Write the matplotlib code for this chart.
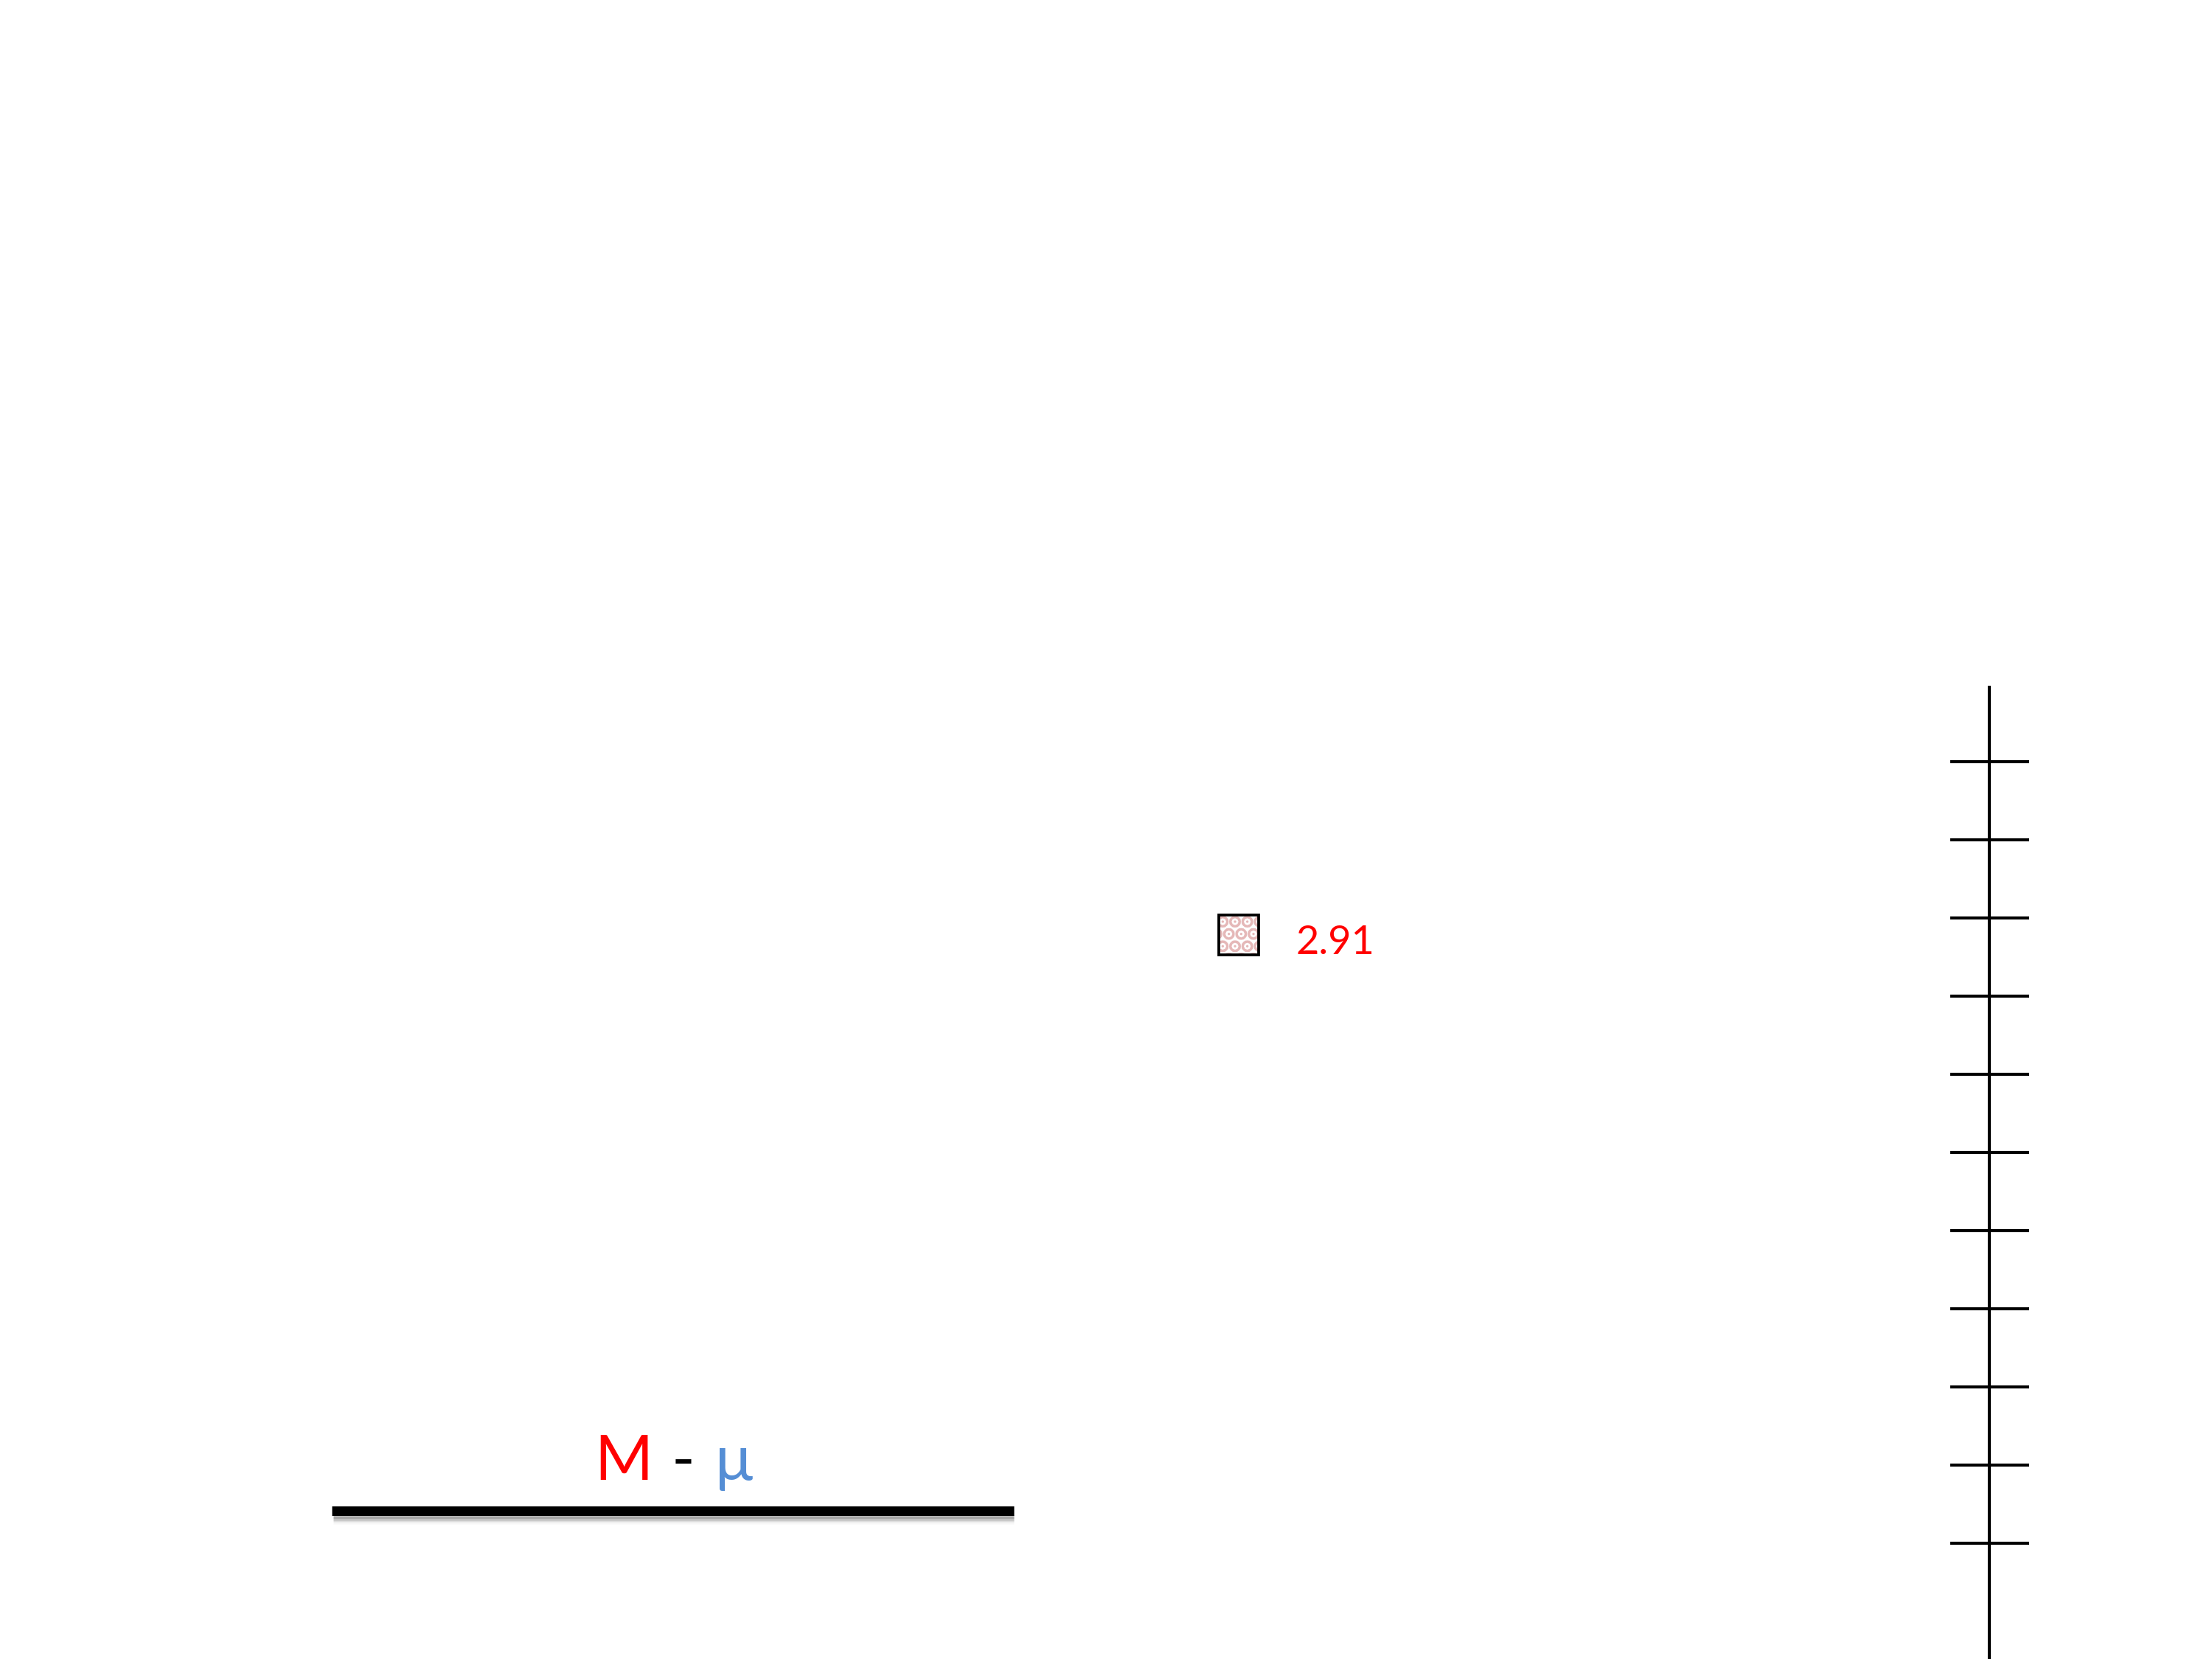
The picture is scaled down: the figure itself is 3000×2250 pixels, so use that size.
import matplotlib
matplotlib.use("Agg")
import matplotlib.pyplot as plt
from matplotlib.patches import Rectangle
import numpy as np

# data
tick_values = list(range(11))          # 11 tick marks along the vertical scale
point_label = "2.91"
title_parts = ["M", "-", "μ"]
title_colors = ["#FF0000", "#000000", "#558ED5"]

plt.rcParams['font.family'] = ['Lato', 'DejaVu Sans']
plt.rcParams['hatch.linewidth'] = 3.0

fig = plt.figure(figsize=(10, 7.5), dpi=300)
ax = fig.add_axes([0, 0, 1, 1])
ax.set_xlim(0, 3000)
ax.set_ylim(2250, 0)
ax.axis('off')

# vertical scale
scale_x = 2698
tick_top, tick_step = 1033, 106
ax.plot([scale_x, scale_x], [930, 2250], color='black', lw=1.0, solid_capstyle='butt')
tick_y = [tick_top + tick_step * v for v in tick_values]
ax.hlines(tick_y, 2645, 2752, color='black', lw=1.0)

# marker with speckled fill
cx, cy, s = 1680, 1268, 54
ax.add_patch(Rectangle((cx - s/2, cy - s/2), s, s, facecolor='white',
                       edgecolor='#E5B8B8', hatch='...', lw=0))
ax.add_patch(Rectangle((cx - s/2, cy - s/2), s, s, facecolor='none',
                       edgecolor='black', lw=0.9))
ax.text(1757, 1294, point_label, color='#FF0000', fontsize=13,
        ha='left', va='baseline')

# thick underline with soft shadow
for i, a in enumerate(np.linspace(0.28, 0.02, 7)):
    ax.plot([452, 1375], [2055 + 1.6 * i + 1, 2055 + 1.6 * i + 1],
            color='black', alpha=a, lw=0.6, solid_capstyle='butt')
ax.plot([450, 1375], [2048.5, 2048.5], color='black', lw=3.1, solid_capstyle='butt')

# title "M - μ"
xs = [846, 926, 995]
for t, c, x in zip(title_parts, title_colors, xs):
    ax.text(x, 2007, t, color=c, fontsize=20.5, ha='center', va='baseline')

fig.savefig('out.png', dpi=300)
